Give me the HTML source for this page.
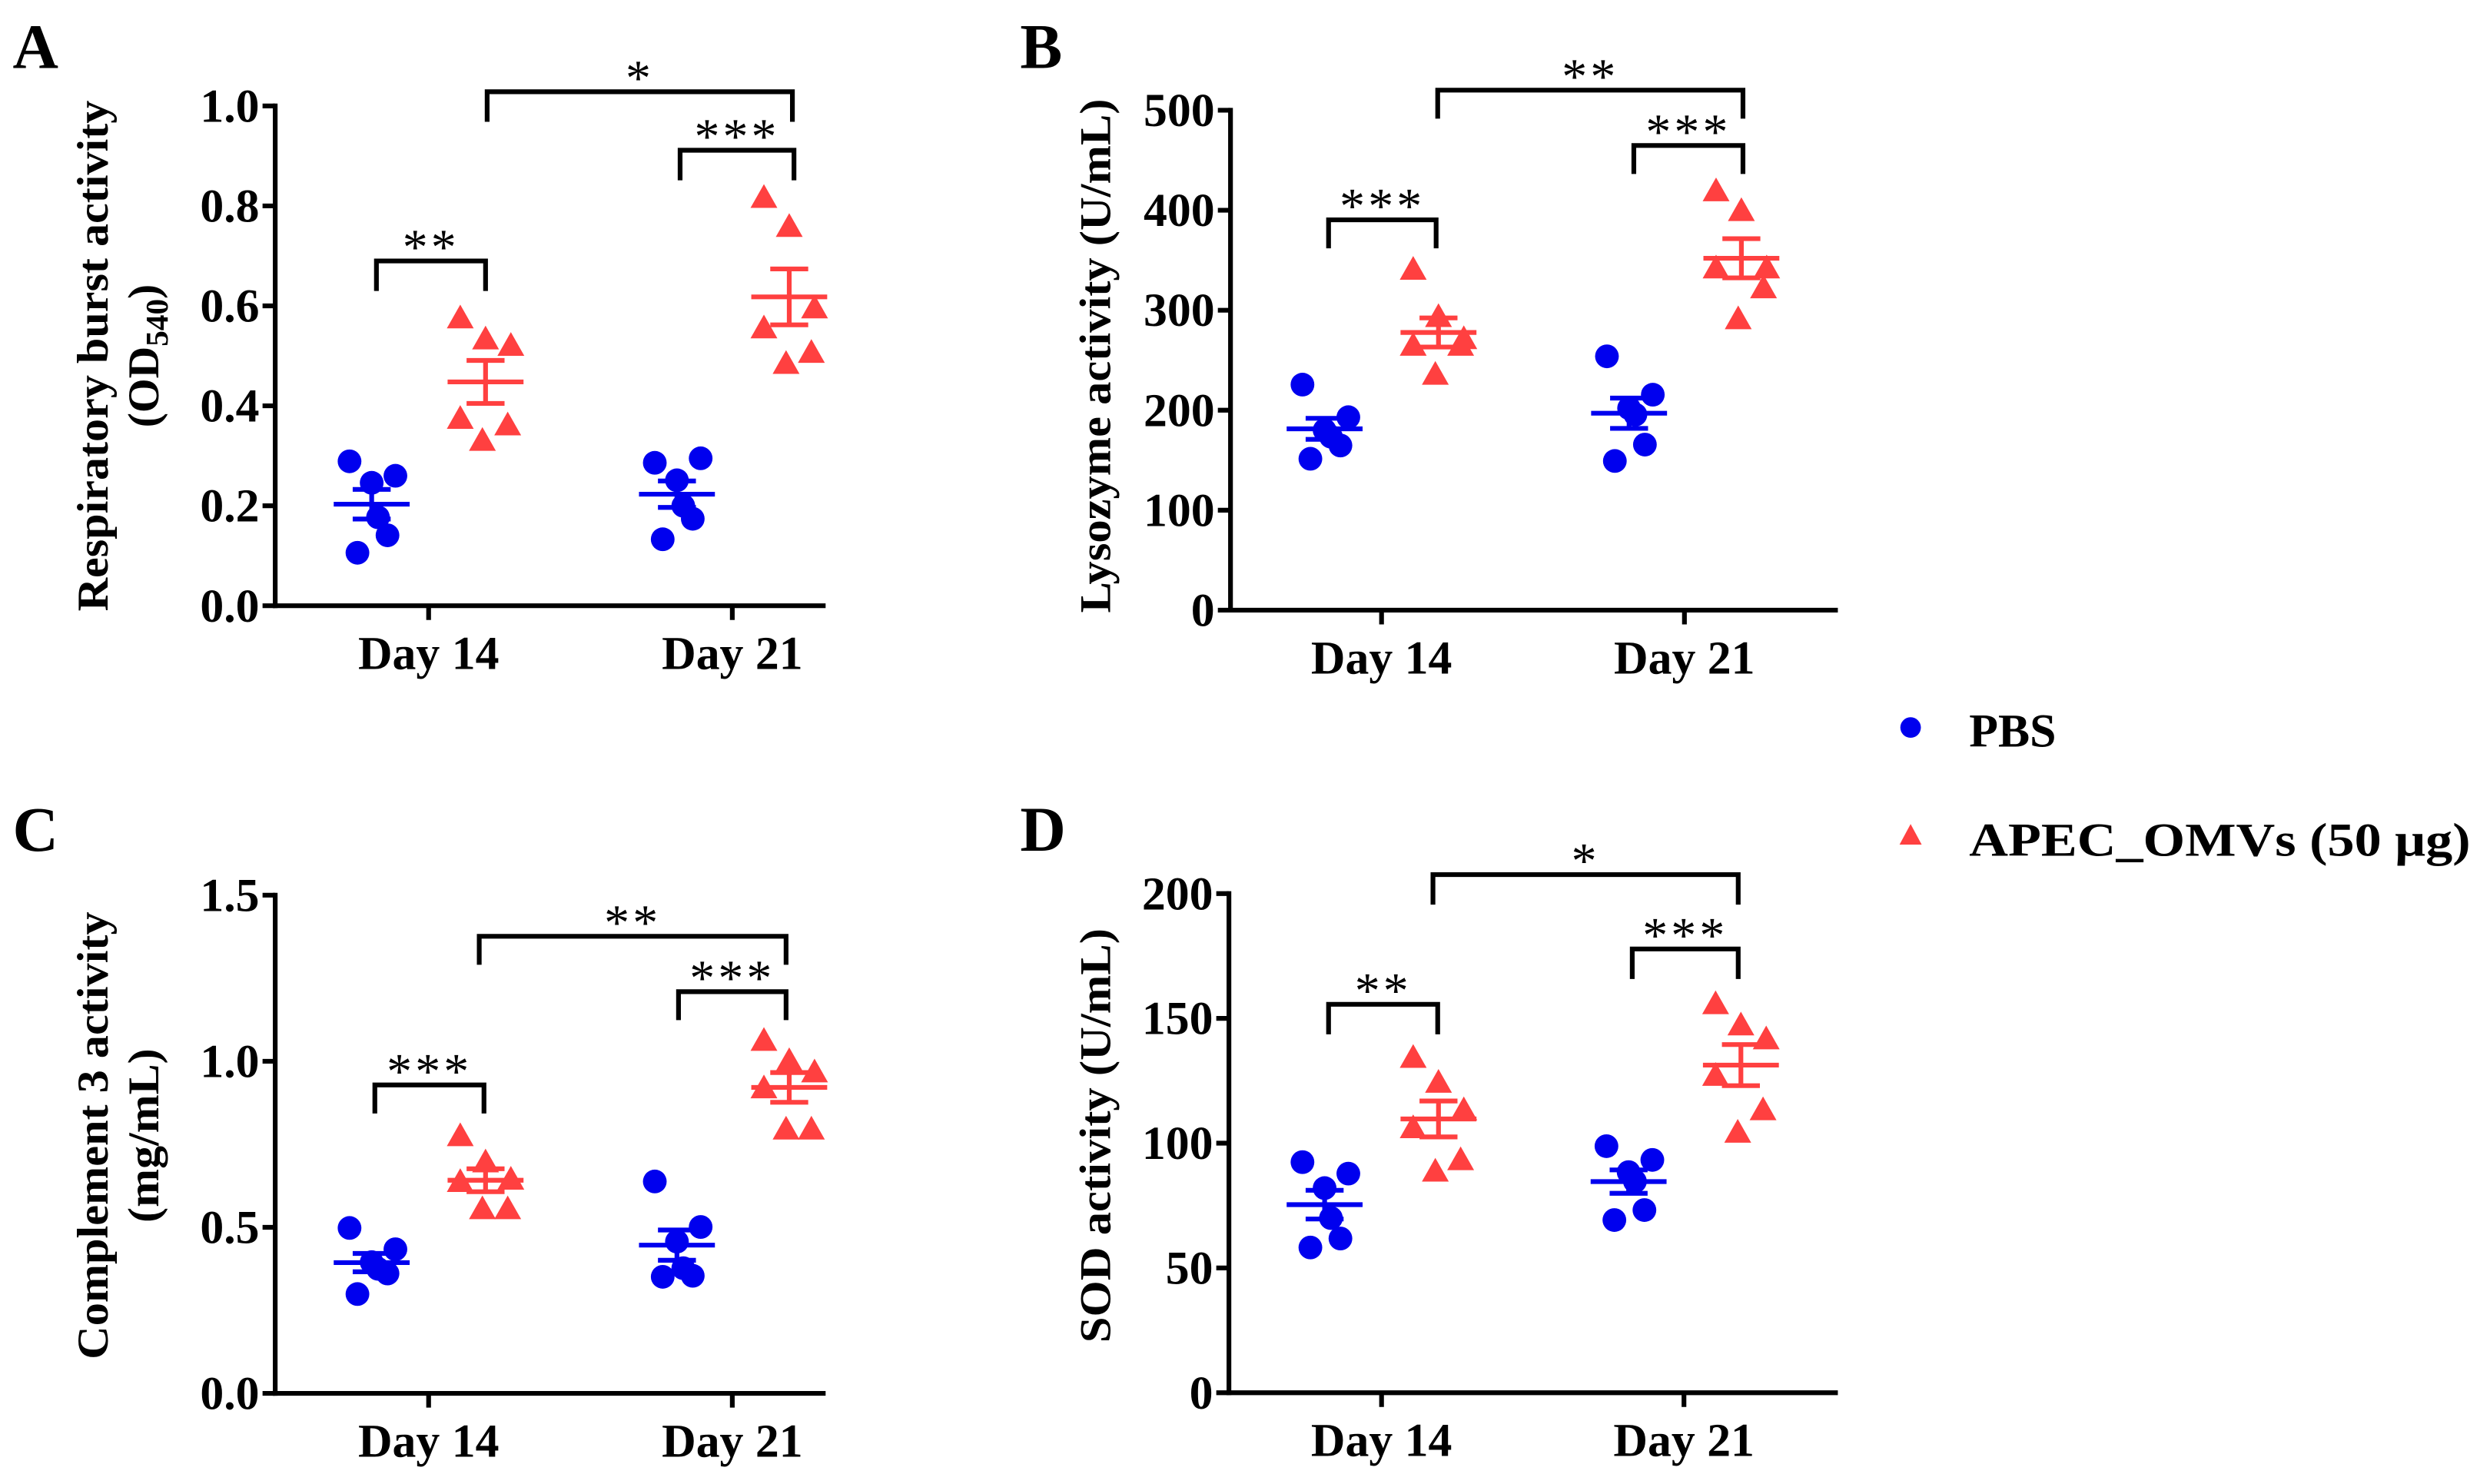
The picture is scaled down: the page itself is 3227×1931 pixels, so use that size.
<!DOCTYPE html>
<html><head><meta charset="utf-8"><style>
html,body{margin:0;padding:0;background:#fff;}
svg{display:block;}
text{font-family:"Liberation Serif",serif;font-weight:bold;fill:#000;}
</style></head>
<body>
<svg id="fig" width="3227" height="1931" viewBox="0 0 1568 938.3" preserveAspectRatio="none" xmlns="http://www.w3.org/2000/svg">
<rect width="1568" height="938.3" fill="#fff"/>
<g>
  <circle cx="1208" cy="460" r="6.5" fill="#0000ee"/>
  <text x="1245" y="472" font-size="30">PBS</text>
  <polygon points="1208,521 1215,534 1201,534" fill="#ff4040"/>
  <text x="1245" y="541" font-size="30" textLength="317" lengthAdjust="spacingAndGlyphs">APEC_OMVs (50 μg)</text>
</g>
</svg>
<script>
const categories = ["Day 14", "Day 21"];
// Panel A
const aPbs14 = [0.289, 0.26, 0.246, 0.177, 0.141, 0.106];
const aApec14 = [0.574, 0.532, 0.519, 0.373, 0.36, 0.329];
const aPbs21 = [0.286, 0.295, 0.251, 0.2, 0.174, 0.133];
const aApec21 = [0.815, 0.757, 0.594, 0.554, 0.505, 0.483];
const aTicks = ["0.0", "0.2", "0.4", "0.6", "0.8", "1.0"];
// Panel B
const bPbs14 = [225.6, 193, 180, 173.5, 164.7, 151.4];
const bApec14 = [340, 292.7, 270.6, 264, 264, 235];
const bPbs21 = [253.9, 215.5, 202, 195.6, 165.6, 149.2];
const bApec21 = [418.5, 398.7, 341.3, 341.3, 321.4, 290.5];
const bTicks = ["0", "100", "200", "300", "400", "500"];
// Panel C
const cPbs14 = [0.498, 0.434, 0.395, 0.375, 0.361, 0.299];
const cApec14 = [0.773, 0.694, 0.642, 0.635, 0.553, 0.553];
const cPbs21 = [0.638, 0.501, 0.457, 0.377, 0.354, 0.351];
const cApec21 = [1.06, 0.999, 0.965, 0.917, 0.793, 0.793];
const cTicks = ["0.0", "0.5", "1.0", "1.5"];
// Panel D
const dPbs14 = [92.4, 87.8, 82, 70, 61.8, 58.2];
const dApec14 = [134, 124, 113, 105.8, 93, 88.4];
const dPbs21 = [98.8, 93.3, 88.4, 84.7, 73.2, 69.2];
const dApec21 = [155.5, 147, 141.4, 126.8, 113, 104];
const dTicks = ["0", "50", "100", "150", "200"];
const sigA = ["**", "***", "*"];
const sigB = ["***", "***", "**"];
const sigC = ["***", "***", "**"];
const sigD = ["**", "***", "*"];

const NS = "http://www.w3.org/2000/svg";
const svg = document.getElementById("fig");
function mk(tag, attrs, parent) {
  const e = document.createElementNS(NS, tag);
  for (const k in attrs) e.setAttribute(k, attrs[k]);
  (parent || svg).appendChild(e);
  return e;
}
const jitPbs = [-14, 15, 0, 4, 10, -9];
const jitApec = [-16, 0, 16, -16, 14, -2];
function meanSem(a) {
  const m = a.reduce((s, v) => s + v, 0) / a.length;
  const sd = Math.sqrt(a.reduce((s, v) => s + (v - m) * (v - m), 0) / (a.length - 1));
  return [m, sd / Math.sqrt(a.length)];
}
function panel(cfg) {
  const g = mk("g", {});
  
  
  const y = v => cfg.y0 - (v / cfg.max) * (cfg.y0 - cfg.y1);
  const xc = [cfg.x14, cfg.x21];
  const lt = mk("text", {x: cfg.lx, y: cfg.ly, "font-size": 40}, g);
  lt.textContent = cfg.letter;
  
  
  const ya = mk("line", {x1: cfg.ax, y1: cfg.y1 - 1.5, x2: cfg.ax, y2: cfg.y0 + 1.5, stroke: "#000", "stroke-width": 3}, g);
  
  
  const xa = mk("line", {x1: cfg.ax - 1.5, y1: cfg.y0, x2: cfg.xend, y2: cfg.y0, stroke: "#000", "stroke-width": 3}, g);
  
  
  cfg.ticks.forEach((t, i) => {
    const v = parseFloat(t);
    const ty = y(v);
    const tl = mk("line", {x1: cfg.ax - 8, y1: ty, x2: cfg.ax, y2: ty, stroke: "#000", "stroke-width": 3}, g);
    
    
    const tx = mk("text", {x: cfg.ax - 10, y: ty + 10, "font-size": 30, "text-anchor": "end"}, g);
    tx.textContent = t;
    
    
  });
  categories.forEach((c, i) => {
    const tl = mk("line", {x1: xc[i], y1: cfg.y0, x2: xc[i], y2: cfg.y0 + 9, stroke: "#000", "stroke-width": 3}, g);
    
    
    const tx = mk("text", {x: xc[i], y: cfg.y0 + 40, "font-size": 30, "text-anchor": "middle"}, g);
    tx.textContent = c;
    
    
  });
  cfg.titles.forEach((t, i) => {
    const tx = mk("text", {x: 0, y: 0, "font-size": 28, "text-anchor": "middle", transform: `translate(${t.x},${cfg.ty}) rotate(-90)`}, g);
    
    
    if (t.sub) {
      tx.appendChild(document.createTextNode(t.text));
      const s = mk("tspan", {"font-size": 20, dy: 6}, tx);
      s.textContent = t.sub;
      const s2 = mk("tspan", {"font-size": 28, dy: -6}, tx);
      s2.textContent = ")";
    } else {
      tx.textContent = t.text;
      if (t.len) { tx.setAttribute("textLength", t.len); tx.setAttribute("lengthAdjust", "spacingAndGlyphs"); }
    }
  });
  const groups = [[cfg.pbs14, 0, -36, "pbs"], [cfg.apec14, 0, 36, "apec"], [cfg.pbs21, 1, -35, "pbs"], [cfg.apec21, 1, 36, "apec"]];
  groups.forEach(([arr, ci, off, kind]) => {
    const cx = xc[ci] + off;
    const col = kind === "pbs" ? "#0000ee" : "#ff4040";
    const jit = kind === "pbs" ? jitPbs : jitApec;
    arr.forEach((v, k) => {
      const py = y(v), px = cx + jit[k];
      let m;
      if (kind === "pbs") m = mk("circle", {cx: px, cy: py, r: 7.5, fill: col}, g);
      else m = mk("polygon", {points: `${px},${py - 9} ${px + 8.5},${py + 6} ${px - 8.5},${py + 6}`, fill: col}, g);
      
      
    });
    const [m, se] = meanSem(arr);
    const ml = mk("line", {x1: cx - 24, y1: y(m), x2: cx + 24, y2: y(m), stroke: col, "stroke-width": 3}, g);
    
    
    const p = mk("path", {d: `M${cx},${y(m + se)}V${y(m - se)}M${cx - 12},${y(m + se)}H${cx + 12}M${cx - 12},${y(m - se)}H${cx + 12}`, stroke: col, "stroke-width": 3, fill: "none"}, g);
    
    
  });
  cfg.br.forEach((b, i) => {
    const p = mk("path", {d: `M${b[0]},${b[3]}V${b[2]}H${b[1]}V${b[3]}`, stroke: "#000", "stroke-width": 3, fill: "none"}, g);
    
    
    const t = mk("text", {x: (b[0] + b[1]) / 2, y: b[2] + 2, "font-size": 32, "text-anchor": "middle"}, g);
    t.setAttribute("style", "font-weight:normal;letter-spacing:2px");
    t.textContent = cfg.sig[i];
    
    
  });
}
panel({name: "panel-a", letter: "A", lx: 8, ly: 43, ax: 174, y0: 383, y1: 67, max: 1.0, xend: 522, x14: 271, x21: 463, ticks: aTicks,
  pbs14: aPbs14, apec14: aApec14, pbs21: aPbs21, apec21: aApec21, sig: sigA, ty: 225,
  titles: [{x: 68, text: "Respiratory burst activity", len: 323}, {x: 100, text: "(OD", sub: "540"}],
  br: [[238, 307, 165, 184], [430, 502, 95, 114], [308, 501, 58, 77]]});
panel({name: "panel-b", letter: "B", lx: 645, ly: 43, ax: 778, y0: 385.8, y1: 69.7, max: 500, xend: 1162, x14: 873.5, x21: 1065, ticks: bTicks,
  pbs14: bPbs14, apec14: bApec14, pbs21: bPbs21, apec21: bApec21, sig: sigB, ty: 225,
  titles: [{x: 702, text: "Lysozyme activity (U/mL)", len: 325}],
  br: [[840, 908, 139, 157], [1033, 1102, 92, 110], [909, 1102, 57, 75]]});
panel({name: "panel-c", letter: "C", lx: 8, ly: 538, ax: 174, y0: 881, y1: 566, max: 1.5, xend: 522, x14: 271, x21: 463, ticks: cTicks,
  pbs14: cPbs14, apec14: cApec14, pbs21: cPbs21, apec21: cApec21, sig: sigC, ty: 718,
  titles: [{x: 68, text: "Complement 3 activity", len: 283}, {x: 100, text: "(mg/mL)", len: 110}],
  br: [[237, 306, 686, 704], [429, 497, 627, 645], [303, 497, 592, 610]]});
panel({name: "panel-d", letter: "D", lx: 645, ly: 538, ax: 777, y0: 880.6, y1: 565, max: 200, xend: 1162, x14: 873.5, x21: 1064.7, ticks: dTicks,
  pbs14: dPbs14, apec14: dApec14, pbs21: dPbs21, apec21: dApec21, sig: sigD, ty: 718,
  titles: [{x: 702, text: "SOD activity (U/mL)", len: 262}],
  br: [[840, 909, 635, 654], [1032, 1099, 600, 619], [906, 1099, 553, 572]]});
</script>
</body></html>
